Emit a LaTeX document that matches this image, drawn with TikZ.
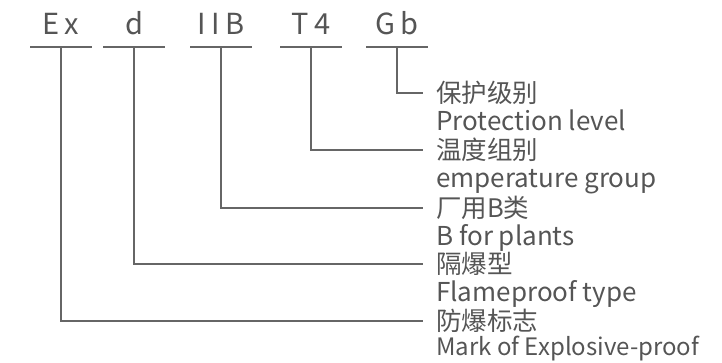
\documentclass[tikz,border=0pt]{standalone}
\usepackage{fontspec}
\setmainfont{Noto Sans CJK SC}
\newfontfamily\codefont[LetterSpace=20]{Noto Sans CJK SC}
\usetikzlibrary{positioning}
\definecolor{inkgray}{HTML}{555555}
\definecolor{linegray}{HTML}{666666}
\tikzset{
  code/.style={font=\codefont\fontsize{29}{29}\selectfont, text=inkgray, minimum width=61pt,
    inner xsep=0pt, inner ysep=12pt, text depth=0pt, anchor=south},
  cn/.style={font=\fontsize{25.5}{25.5}\selectfont, text=inkgray, anchor=west, inner xsep=13pt, inner ysep=0pt},
  en/.style={font=\fontsize{26}{26}\selectfont, text=inkgray, anchor=base west, inner sep=0pt},
  rule/.style={draw=linegray, line width=1.4pt},
}

\begin{document}
\begin{tikzpicture}[x=1pt,y=-1pt]
\useasboundingbox (0,0) rectangle (722,362);

\node[code] (ex) at (61,47) {Ex};
\node[code] (d) at (134,47) {d};
\node[code] (iib) at (221,47) {IIB};
\node[code] (t4) at (311,47) {T4};
\node[code] (gb) at (397,47) {Gb};

\node[cn] (cngb) at (423,93) {保护级别};
\node[en] (engb) at (436,130) {Protection level};
\node[cn] (cnt4) at (423,150) {温度组别};
\node[en] (ent4) at (436,187) {emperature group};
\node[cn] (cniib) at (423,208) {厂用B类};
\node[en] (eniib) at (436,245) {B for plants};
\node[cn] (cnd) at (423,264) {隔爆型};
\node[en] (end) at (436,301) {Flameproof type};
\node[cn] (cnex) at (423,321) {防爆标志};
\node[en, font=\fontsize{24}{24}\selectfont] (enex) at (436,355) {Mark of Explosive-proof};

\draw[rule] (ex.south west) -- (ex.south east);
\draw[rule] (d.south west) -- (d.south east);
\draw[rule] (iib.south west) -- (iib.south east);
\draw[rule] (t4.south west) -- (t4.south east);
\draw[rule] (gb.south west) -- (gb.south east);

\draw[rule] (gb.south) |- (cngb.west);
\draw[rule] (t4.south) |- (cnt4.west);
\draw[rule] (iib.south) |- (cniib.west);
\draw[rule] (d.south) |- (cnd.west);
\draw[rule] (ex.south) |- (cnex.west);

\end{tikzpicture}
\end{document}
